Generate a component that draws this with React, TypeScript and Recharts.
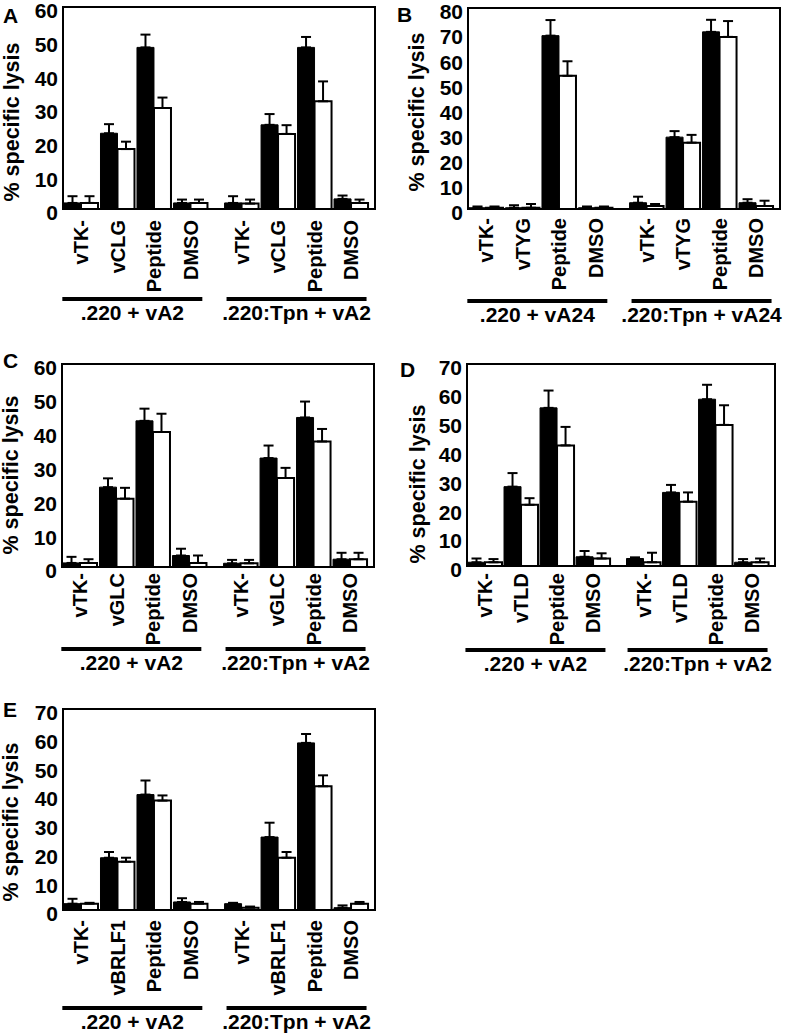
import React from "react";
import { BarChart, Bar, XAxis, YAxis, ErrorBar, ReferenceArea } from "recharts";

const FONT = "'Liberation Sans', Arial, Helvetica, sans-serif";

// slot positions on the x axis: two groups of four with a wider gap between
const xPositions = [0, 1, 2, 3, 4.4, 5.4, 6.4, 7.4];
const groupCenters = [1.4, 5.9];
const xDomain: [number, number] = [-0.5, 8.05];

// panel A
const labelsA = ["vTK-", "vCLG", "Peptide", "DMSO", "vTK-", "vCLG", "Peptide", "DMSO"];
const groupsA = [".220 + vA2", ".220:Tpn + vA2"];
const blackA = [1.8, 22.5, 48, 1.8, 1.8, 25, 48, 3];
const blackErrA = [2, 2.7, 3.8, 1, 2, 3.2, 3.1, 1];
const whiteA = [1.8, 17.8, 30, 1.8, 1.6, 22.3, 32, 1.8];
const whiteErrA = [2, 2.2, 3.1, 1, 1.2, 2.6, 5.9, 1];

// panel B
const labelsB = ["vTK-", "vTYG", "Peptide", "DMSO", "vTK-", "vTYG", "Peptide", "DMSO"];
const groupsB = [".220 + vA24", ".220:Tpn + vA24"];
const blackB = [0.5, 0.5, 69, 0.5, 2.5, 28.6, 70.5, 2.5];
const blackErrB = [0.5, 1, 6.2, 0.5, 2.4, 2.4, 4.8, 1.4];
const whiteB = [0.5, 0.5, 53, 0.5, 1.2, 26.4, 68.5, 1.2];
const whiteErrB = [0.5, 1.5, 5.8, 0.5, 0.8, 3.1, 6.3, 2.1];

// panel C
const labelsC = ["vTK-", "vGLC", "Peptide", "DMSO", "vTK-", "vGLC", "Peptide", "DMSO"];
const groupsC = [".220 + vA2", ".220:Tpn + vA2"];
const blackC = [1.2, 23.6, 43.2, 3.4, 1.1, 32.2, 44.2, 2.3];
const blackErrC = [1.8, 2.6, 3.6, 2, 1, 3.7, 4.7, 1.9];
const whiteC = [1.2, 20.2, 39.9, 1.2, 1.1, 26.3, 37.1, 2.3];
const whiteErrC = [1.1, 3.2, 5.4, 2.2, 1, 3, 3.7, 1.9];

// panel D
const labelsD = ["vTK-", "vTLD", "Peptide", "DMSO", "vTK-", "vTLD", "Peptide", "DMSO"];
const groupsD = [".220 + vA2", ".220:Tpn + vA2"];
const blackD = [1.3, 27.5, 54.8, 3.2, 2.6, 25.5, 57.8, 1.3];
const blackErrD = [1.3, 4.7, 6, 2, 0.4, 2.6, 5, 1.1];
const whiteD = [1.3, 21.2, 41.8, 2.6, 1.3, 22.3, 48.9, 1.3];
const whiteErrD = [1.1, 2.3, 6.4, 1.8, 3.3, 3.2, 6.8, 1.3];

// panel E
const labelsE = ["vTK-", "vBRLF1", "Peptide", "DMSO", "vTK-", "vBRLF1", "Peptide", "DMSO"];
const groupsE = [".220 + vA2", ".220:Tpn + vA2"];
const blackE = [2.2, 18.2, 40.2, 2.8, 2.2, 25.4, 58.2, 0.8];
const blackErrE = [1.7, 2, 4.9, 1.3, 0.3, 5, 3.1, 0.8];
const whiteE = [2.2, 16.8, 38.1, 2.2, 0.8, 18.2, 43.1, 2.2];
const whiteErrE = [0.3, 1.4, 1.8, 0.6, 0.4, 2, 3.8, 0.6];

const ticks60 = [0, 10, 20, 30, 40, 50, 60];
const ticks70 = [0, 10, 20, 30, 40, 50, 60, 70];
const ticks80 = [0, 10, 20, 30, 40, 50, 60, 70, 80];

type PanelProps = {
  letter: string;
  letterPos: [number, number];
  left: number;
  top: number;
  width: number;
  height: number;
  yTicks: number[];
  labels: string[];
  groups: string[];
  black: number[];
  blackErr: number[];
  white: number[];
  whiteErr: number[];
  tickGap: number;
  lineOffset: number;
  yLabelPos: [number, number];
};

const ML = 60;
const MT = 20;
const MR = 24;

const Panel = (p: PanelProps) => {
  const yMax = p.yTicks[p.yTicks.length - 1];
  const data = xPositions.map((x, i) => ({
    x,
    black: p.black[i],
    blackErr: [0, p.blackErr[i]],
    white: p.white[i],
    whiteErr: [0, p.whiteErr[i]],
  }));

  const XTick = (t: any) => {
    const i = xPositions.indexOf(t.payload.value);
    const y = t.y + p.tickGap;
    return (
      <text
        x={t.x}
        y={y}
        dy="0.36em"
        transform={`rotate(-90 ${t.x} ${y})`}
        textAnchor="end"
        fontFamily={FONT}
        fontWeight="bold"
        fontSize={20}
        fill="#000"
      >
        {p.labels[i]}
      </text>
    );
  };

  const GroupTick = (t: any) => {
    const i = groupCenters.indexOf(t.payload.value);
    return (
      <g>
        <rect x={t.x - 70} y={t.y} width={140} height={4} fill="#000" />
        <text
          x={t.x}
          y={t.y + 16}
          dy="0.35em"
          textAnchor="middle"
          fontFamily={FONT}
          fontWeight="bold"
          fontSize={21}
          fill="#000"
        >
          {p.groups[i]}
        </text>
      </g>
    );
  };

  const YTick = (t: any) => (
    <text
      x={t.x}
      y={t.y + 4}
      dy="0.35em"
      textAnchor="end"
      fontFamily={FONT}
      fontWeight="bold"
      fontSize={21}
      fill="#000"
    >
      {t.payload.value}
    </text>
  );

  return (
    <>
      <div
        style={{
          position: "absolute",
          left: p.letterPos[0],
          top: p.letterPos[1],
          fontFamily: FONT,
          fontWeight: "bold",
          fontSize: 21,
          lineHeight: "21px",
        }}
      >
        {p.letter}
      </div>
      <div
        style={{
          position: "absolute",
          left: p.yLabelPos[0],
          top: p.yLabelPos[1],
          transform: "translate(-50%, -50%) rotate(-90deg)",
          whiteSpace: "nowrap",
          fontFamily: FONT,
          fontWeight: "bold",
          fontSize: 21.5,
          lineHeight: "22px",
        }}
      >
        % specific lysis
      </div>
      <div style={{ position: "absolute", left: p.left - ML, top: p.top - MT }}>
        <BarChart
          width={ML + p.width + MR}
          height={MT + p.height + p.lineOffset - 2 + 40}
          data={data}
          margin={{ top: MT, right: MR, left: 0, bottom: 0 }}
          barGap={0}
          barSize={17}
        >
          <XAxis
            dataKey="x"
            type="number"
            domain={xDomain}
            ticks={xPositions}
            interval={0}
            allowDataOverflow
            axisLine={false}
            tickLine={false}
            tickSize={0}
            tickMargin={0}
            height={p.lineOffset - 2}
            tick={XTick}
          />
          <XAxis
            xAxisId="g"
            dataKey="x"
            type="number"
            domain={xDomain}
            ticks={groupCenters}
            interval={0}
            allowDataOverflow
            axisLine={false}
            tickLine={false}
            tickSize={0}
            tickMargin={0}
            height={40}
            tick={GroupTick}
          />
          <YAxis
            type="number"
            domain={[0, yMax]}
            ticks={p.yTicks}
            interval={0}
            allowDataOverflow
            axisLine={false}
            tickLine={false}
            tickSize={0}
            tickMargin={5}
            width={ML}
            tick={YTick}
          />
          <ReferenceArea
            x1={xDomain[0]}
            x2={xDomain[1]}
            y1={0}
            y2={yMax}
            fill="none"
            stroke="#000"
            strokeWidth={2}
            ifOverflow="visible"
          />
          <Bar dataKey="black" fill="#000" stroke="#000" strokeWidth={1} isAnimationActive={false}>
            <ErrorBar dataKey="blackErr" direction="y" width={5} stroke="#000" strokeWidth={2} />
          </Bar>
          <Bar dataKey="white" fill="#fff" stroke="#000" strokeWidth={2} isAnimationActive={false}>
            <ErrorBar dataKey="whiteErr" direction="y" width={5} stroke="#000" strokeWidth={2} />
          </Bar>
        </BarChart>
      </div>
    </>
  );
};

export default function App() {
  return (
    <div
      style={{
        position: "absolute",
        left: 0,
        top: 0,
        width: 791,
        height: 1036,
        overflow: "hidden",
        background: "#fff",
        color: "#000",
      }}
    >
      <Panel
        letter="A"
        letterPos={[3, 5]}
        left={63}
        top={7}
        width={312}
        height={202}
        yTicks={ticks60}
        labels={labelsA}
        groups={groupsA}
        black={blackA}
        blackErr={blackErrA}
        white={whiteA}
        whiteErr={whiteErrA}
        tickGap={11}
        lineOffset={90}
        yLabelPos={[12, 122]}
      />
      <Panel
        letter="B"
        letterPos={[397, 4]}
        left={468}
        top={8}
        width={312}
        height={201}
        yTicks={ticks80}
        labels={labelsB}
        groups={groupsB}
        black={blackB}
        blackErr={blackErrB}
        white={whiteB}
        whiteErr={whiteErrB}
        tickGap={9}
        lineOffset={92}
        yLabelPos={[417, 112]}
      />
      <Panel
        letter="C"
        letterPos={[3, 350]}
        left={62}
        top={364}
        width={312}
        height={203}
        yTicks={ticks60}
        labels={labelsC}
        groups={groupsC}
        black={blackC}
        blackErr={blackErrC}
        white={whiteC}
        whiteErr={whiteErrC}
        tickGap={6}
        lineOffset={82}
        yLabelPos={[11, 475]}
      />
      <Panel
        letter="D"
        letterPos={[400, 359]}
        left={467}
        top={364}
        width={308}
        height={202}
        yTicks={ticks70}
        labels={labelsD}
        groups={groupsD}
        black={blackD}
        blackErr={blackErrD}
        white={whiteD}
        whiteErr={whiteErrD}
        tickGap={7}
        lineOffset={84}
        yLabelPos={[418, 484]}
      />
      <Panel
        letter="E"
        letterPos={[3, 699]}
        left={63}
        top={709}
        width={312}
        height={201}
        yTicks={ticks70}
        labels={labelsE}
        groups={groupsE}
        black={blackE}
        blackErr={blackErrE}
        white={whiteE}
        whiteErr={whiteErrE}
        tickGap={10}
        lineOffset={98}
        yLabelPos={[11, 822]}
      />
    </div>
  );
}
